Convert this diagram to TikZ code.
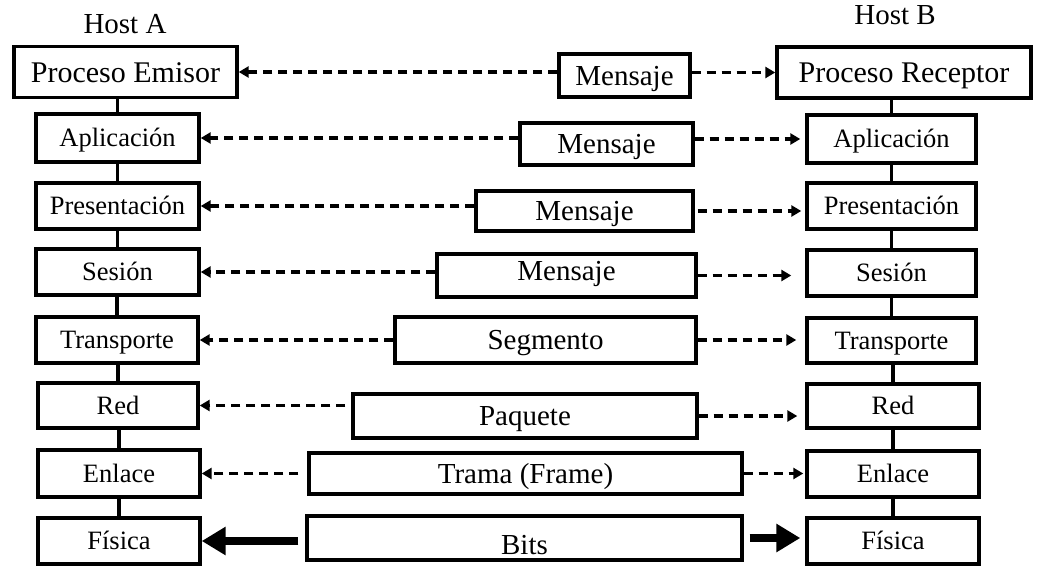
\documentclass[tikz,border=0pt]{standalone}
\usepackage{fontspec}
\setmainfont{Liberation Serif}
\usetikzlibrary{arrows.meta}

\begin{document}
\begin{tikzpicture}[x=1pt, y=-1pt,
  box/.style={draw, line width=3.4pt, inner sep=0pt, text depth=0pt},
  proc/.style={box, font=\fontsize{30}{32}\selectfont, text height=20pt},
  layer/.style={box, font=\fontsize{26.5}{29}\selectfont, text height=17.5pt},
  pdu/.style={box, font=\fontsize{29}{31}\selectfont, text height=19pt},
  host/.style={font=\fontsize{29}{31}\selectfont, text height=19pt, text depth=0pt},
  msg/.style={->, line width=3.2pt, dash pattern=on 9pt off 6pt, >={Triangle[length=10pt,width=11pt]}},
  bit/.style={->, line width=8pt, >={Triangle[length=24pt,width=27pt]}},
  stack/.style={line width=3.2pt}]
  \useasboundingbox (0,0) rectangle (1043,576);

  % hosts
  \node [host] (ha) at (125,24) {Host A};
  \node [host] (hb) at (895,15) {Host B};

  % Host A stack
  \node [proc, minimum width=223pt, minimum height=51pt]  (pe) at (125.5,72) {Proceso Emisor};
  \node [layer, minimum width=163pt, minimum height=48pt] (a1) at (117.5,138) {Aplicación};
  \node [layer, minimum width=163pt, minimum height=46pt] (a2) at (117.5,206) {Presentación};
  \node [layer, minimum width=163pt, minimum height=46pt] (a3) at (117.5,272) {Sesión};
  \node [layer, minimum width=162pt, minimum height=46pt] (a4) at (117,340) {Transporte};
  \node [layer, minimum width=160pt, minimum height=45pt] (a5) at (118,405.5) {Red};
  \node [layer, minimum width=162pt, minimum height=47pt] (a6) at (119,473.5) {Enlace};
  \node [layer, minimum width=162pt, minimum height=46pt] (a7) at (119,541) {Física};

  % Host B stack
  \node [proc, minimum width=254pt, minimum height=51pt]  (pr) at (904,72.5) {Proceso Receptor};
  \node [layer, minimum width=169pt, minimum height=48pt] (b1) at (891.5,139) {Aplicación};
  \node [layer, minimum width=169pt, minimum height=46pt] (b2) at (891.5,206) {Presentación};
  \node [layer, minimum width=169pt, minimum height=46pt] (b3) at (891.5,273) {Sesión};
  \node [layer, minimum width=169pt, minimum height=45pt] (b4) at (891.5,340.5) {Transporte};
  \node [layer, minimum width=172pt, minimum height=44pt] (b5) at (893,406) {Red};
  \node [layer, minimum width=172pt, minimum height=46pt] (b6) at (893,474) {Enlace};
  \node [layer, minimum width=172pt, minimum height=46pt] (b7) at (893,541) {Física};

  % data units
  \node [pdu, minimum width=131pt, minimum height=43pt] (m0) at (624.5,75.5) {Mensaje};
  \node [pdu, minimum width=173pt, minimum height=42pt] (m1) at (606.5,144) {Mensaje};
  \node [pdu, minimum width=217pt, minimum height=40pt] (m2) at (584.5,211) {Mensaje};
  \node [pdu, minimum width=259pt, minimum height=43pt, text depth=9pt] (m3) at (566.5,275.5) {Mensaje};
  \node [pdu, minimum width=301pt, minimum height=46pt] (m4) at (545.5,340) {Segmento};
  \node [pdu, minimum width=344pt, minimum height=44pt] (m5) at (525,416) {Paquete};
  \node [pdu, minimum width=433pt, minimum height=41pt] (m6) at (525.5,473.5) {Trama (Frame)};
  \node [pdu, minimum width=435pt, minimum height=44pt, text height=33pt] (m7) at (524.5,538) {Bits};

  % stack lines
  \foreach \u/\l in {pe/a1, a1/a2, a2/a3, a3/a4, a4/a5, a5/a6, a6/a7,
                     pr/b1, b1/b2, b2/b3, b3/b4, b4/b5, b5/b6, b6/b7}
    \draw [stack] (\l.north |- \u.south) -- (\l.north);

  % towards Host A
  \draw [msg] (m0.west |- pe.east) -- (pe.east);
  \draw [msg] (m1.west |- a1.east) -- (a1.east);
  \draw [msg] (m2.west |- a2.east) -- (a2.east);
  \draw [msg] (m3.west |- a3.east) -- (a3.east);
  \draw [msg] (m4.west |- a4.east) -- (a4.east);
  \draw [msg, shorten <=6pt] (m5.west |- a5.east) -- (a5.east);
  \draw [msg, shorten <=9pt] (m6.west |- a6.east) -- (a6.east);
  \draw [bit, shorten <=7pt] (m7.west |- a7.east) -- (a7.east);

  % towards Host B
  \draw [msg] (m0.east |- pr.west) -- (pr.west);
  \draw [msg, shorten >=5pt] (m1.east |- b1.west) -- (b1.west);
  \draw [msg, shorten <=3pt, shorten >=4pt] (m2.east) -- (m2.east -| b2.west);
  \draw [msg, shorten >=14pt] (m3.east) -- (m3.east -| b3.west);
  \draw [msg, shorten >=9pt] (m4.east) -- (m4.east -| b4.west);
  \draw [msg, shorten >=8pt] (m5.east) -- (m5.east -| b5.west);
  \draw [msg, shorten >=2pt] (m6.east) -- (m6.east -| b6.west);
  \draw [bit, shorten <=6pt, shorten >=5pt] (m7.east) -- (m7.east -| b7.west);
\end{tikzpicture}
\end{document}
